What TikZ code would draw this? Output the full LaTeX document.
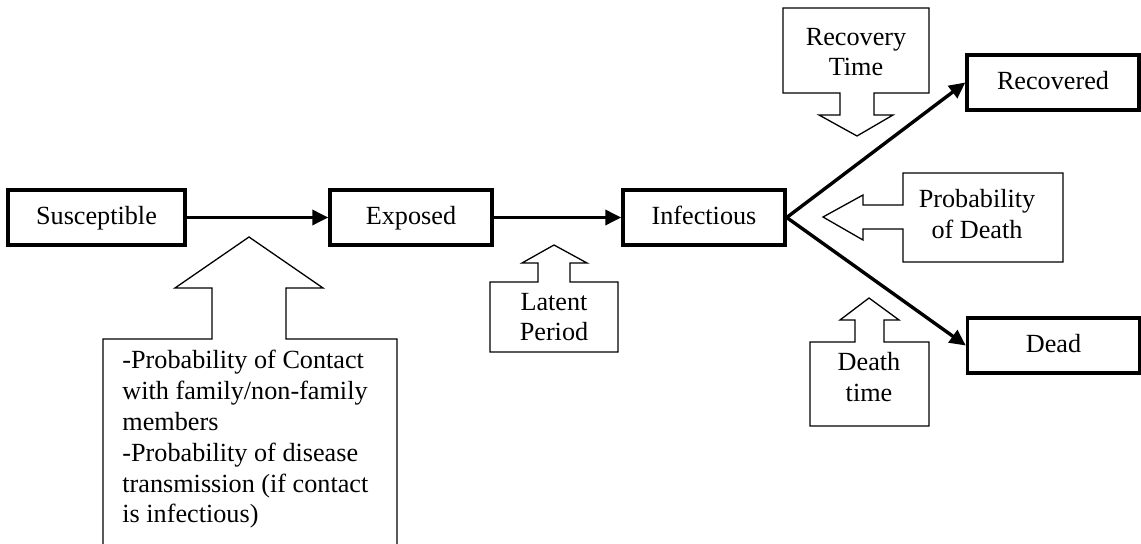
\documentclass[tikz,border=0pt]{standalone}
\usepackage{fontspec}
\setmainfont{Liberation Serif}
\usetikzlibrary{arrows.meta,positioning}
\tikzset{%
        state/.style = { draw, line width=1.7pt, minimum height=27.5pt, inner sep=0pt,
                         text height=1.8ex, text depth=.25ex, txt },
          txt/.style = { font=\fontsize{13.1}{15.4}\selectfont },
         flow/.style = { line width=1.7pt, -{Triangle[length=8pt,width=7.5pt]} },
      callout/.style = { draw, line width=0.65pt, line join=miter },
         note/.style = { txt, align=center, inner sep=0pt }
}
\begin{document}
\begin{tikzpicture}[x=0.5pt,y=-0.5pt]
\useasboundingbox (0,0) rectangle (1141,544);
% compartments
\node[state, minimum width=88.5pt] (sus)  at (96.5,217.5) {Susceptible};
\node[state, minimum width=81pt]   (exp)  at (411,217.5)  {Exposed};
\node[state, minimum width=81pt]   (inf)  at (704,217.5)  {Infectious};
\node[state, minimum width=86pt]   (rec)  at (1053,82.5)  {Recovered};
\node[state, minimum width=86pt]   (dead) at (1053.5,345.5) {Dead};
\draw[flow] (sus) -- (exp);
\draw[flow] (exp) -- (inf);
\draw[flow] (inf.east) -- (rec.west);
\draw[flow] (inf.east) -- (dead.west);
% callouts
\draw[callout] (103,546) -- (103,339) -- (212,339) -- (212,288) -- (175,288) -- (249,237)
      -- (323,288) -- (286,288) -- (286,339) -- (397,339) -- (397,546);
\node[txt, align=left, inner sep=0pt, anchor=north west] (contact) at (122,350)
      {-Probability of Contact\\with family/non-family\\members\\-Probability of disease\\transmission (if contact\\is infectious)};
\draw[callout] (490,352) -- (490,282) -- (538,282) -- (538,263) -- (522,263) -- (554,245)
      -- (587,263) -- (570,263) -- (570,282) -- (618,282) -- (618,352) -- cycle;
\node[note] (lat) at (554,317) {Latent\\Period};
\draw[callout] (783,8) -- (929,8) -- (929,93) -- (874,93) -- (874,115) -- (893,115) -- (857,136)
      -- (819,115) -- (840,115) -- (840,93) -- (783,93) -- cycle;
\node[note] (rtime) at (856,52) {Recovery\\Time};
\draw[callout] (1063,173) -- (1063,262) -- (903,262) -- (903,229) -- (863,229) -- (863,240) -- (823,217)
      -- (863,195) -- (863,205) -- (903,205) -- (903,173) -- cycle;
\node[note] (pdeath) at (977,214) {Probability\\of Death};
\draw[callout] (810,426) -- (810,342) -- (855,342) -- (855,320) -- (840,320) -- (869,298)
      -- (899,320) -- (884,320) -- (884,342) -- (929,342) -- (929,426) -- cycle;
\node[note] (dtime) at (869,377) {Death\\time};
\end{tikzpicture}
\end{document}
